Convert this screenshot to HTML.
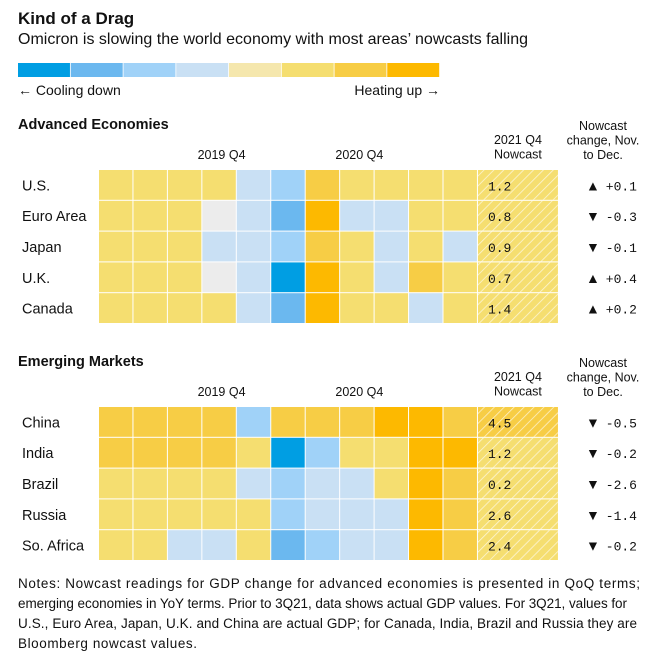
<!DOCTYPE html>
<html><head><meta charset="utf-8"><style>
body{margin:0;background:#fff;}
svg text{font-family:"Liberation Sans",sans-serif;fill:#111;}
.mono{font-family:"Liberation Mono",monospace !important;}
</style></head><body>
<svg id="chart" width="662" height="666" xmlns="http://www.w3.org/2000/svg">
<defs>
<pattern id="hatch" patternUnits="userSpaceOnUse" width="7" height="7" patternTransform="rotate(45)">
<line x1="0" y1="0" x2="0" y2="7" stroke="#fff" stroke-width="1.6" opacity="0.7"/>
</pattern>
</defs>
<text x="18" y="24" font-size="17" font-weight="bold">Kind of a Drag</text>
<text x="18" y="44" font-size="16" textLength="510">Omicron is slowing the world economy with most areas’ nowcasts falling</text>
<g id="legend"></g>
<text x="18" y="95" font-size="14">← Cooling down</text>
<text x="440" y="95" font-size="14" text-anchor="end">Heating up →</text>
<g id="grid"></g>
<text font-size="13.5" x="18">
<tspan x="18" y="588" textLength="622">Notes: Nowcast readings for GDP change for advanced economies is presented in QoQ terms;</tspan>
<tspan x="18" y="608" textLength="609">emerging economies in YoY terms. Prior to 3Q21, data shows actual GDP values. For 3Q21, values for</tspan>
<tspan x="18" y="628" textLength="619">U.S., Euro Area, Japan, U.K. and China are actual GDP; for Canada, India, Brazil and Russia they are</tspan>
<tspan x="18" y="648" textLength="179">Bloomberg nowcast values.</tspan>
</text>
</svg>
<script>
const palette=['#009ee3','#6bb8ef','#a0d2f8','#c9e0f4','#f5e7ad','#f5de70','#f7cd45','#fdb900'];
const advCountries=['U.S.','Euro Area','Japan','U.K.','Canada'];
const advLevels=[[5,5,5,5,3,2,6,5,5,5,5],[5,5,5,-1,3,1,7,3,3,5,5],[5,5,5,3,3,2,6,5,3,5,3],[5,5,5,-1,3,0,7,5,3,6,5],[5,5,5,5,3,1,7,5,5,3,5]];
const advNowcast=['1.2','0.8','0.9','0.7','1.4'];
const advNowLevel=[5,5,5,5,5];
const advChange=['+0.1','-0.3','-0.1','+0.4','+0.2'];
const emCountries=['China','India','Brazil','Russia','So. Africa'];
const emLevels=[[6,6,6,6,2,6,6,6,7,7,6],[6,6,6,6,5,0,2,5,5,7,7],[5,5,5,5,3,2,3,3,5,7,6],[5,5,5,5,5,2,3,3,3,7,6],[5,5,3,3,5,1,2,3,3,7,6]];
const emNowcast=['4.5','1.2','0.2','2.6','2.4'];
const emNowLevel=[6,5,5,5,5];
const emChange=['-0.5','-0.2','-2.6','-1.4','-0.2'];
const colLabels=[[3,'2019 Q4'],[7,'2020 Q4']];

const NS='http://www.w3.org/2000/svg';
const svg=document.getElementById('chart');
function mk(tag,attrs,parent,txt){const e=document.createElementNS(NS,tag);for(const k in attrs)e.setAttribute(k,attrs[k]);if(txt!==undefined)e.textContent=txt;(parent||svg).appendChild(e);return e;}
const lg=document.getElementById('legend');
const lw=422/palette.length;
palette.forEach((c,i)=>{const r=mk('rect',{x:18+i*lw,y:63,width:lw-0.8,height:14,fill:c},lg);

});
const x0=99,cw=34.45,nowW=80;
const xCol=i=>x0+i*cw;
function section(title,top,countries,levels,now,nowLvl,chg,sname){
  const g=mk('g',{});
  
  
  const t=mk('text',{x:18,y:top,'font-size':14.5,'font-weight':'bold'},g,title);
  
  
  colLabels.forEach(([ci,l])=>{const e=mk('text',{x:xCol(ci)+cw/2+2,y:top+30,'font-size':12.5,'text-anchor':'middle'},g,l);
    
    });
  const nx=xCol(11)+nowW/2;
  ['2021 Q4','Nowcast'].forEach((l,i)=>{const e=mk('text',{x:nx,y:top+15+i*14.5,'font-size':12.5,'text-anchor':'middle'},g,l);
    
    });
  ['Nowcast','change, Nov.','to Dec.'].forEach((l,i)=>{const e=mk('text',{x:603,y:top+1+i*14.5,'font-size':12.5,'text-anchor':'middle'},g,l);
    
    });
  const ry=top+41, rh=30.8;
  countries.forEach((c,r)=>{
    const y=ry+r*rh;
    const lab=mk('text',{x:22,y:y+rh/2+5,'font-size':14.5},g,c);
    
    
    levels[r].forEach((v,i)=>{
      const cell=mk('rect',{x:xCol(i),y:y,width:cw-1,height:rh-1,fill:v<0?'#ececec':palette[v]},g);
      
      
    });
    const nc=mk('rect',{x:xCol(11),y:y,width:nowW,height:rh-1,fill:palette[nowLvl[r]]},g);
    
    
    mk('rect',{x:xCol(11),y:y,width:nowW,height:rh-1,fill:'url(#hatch)'},g);
    const nt=mk('text',{x:xCol(11)+10,y:y+rh/2+5,'font-size':13,class:'mono'},g,now[r]);
    
    
    const up=chg[r][0]==='+';
    const tri=mk('text',{x:586,y:y+rh/2+5,'font-size':14},g,up?'▲':'▼');
    
    
    const ct=mk('text',{x:637,y:y+rh/2+5,'font-size':13,class:'mono','text-anchor':'end'},g,chg[r]);
    
    
  });
}
section('Advanced Economies',129,advCountries,advLevels,advNowcast,advNowLevel,advChange,'advanced-economies');
section('Emerging Markets',366,emCountries,emLevels,emNowcast,emNowLevel,emChange,'emerging-markets');
</script>
</body></html>
